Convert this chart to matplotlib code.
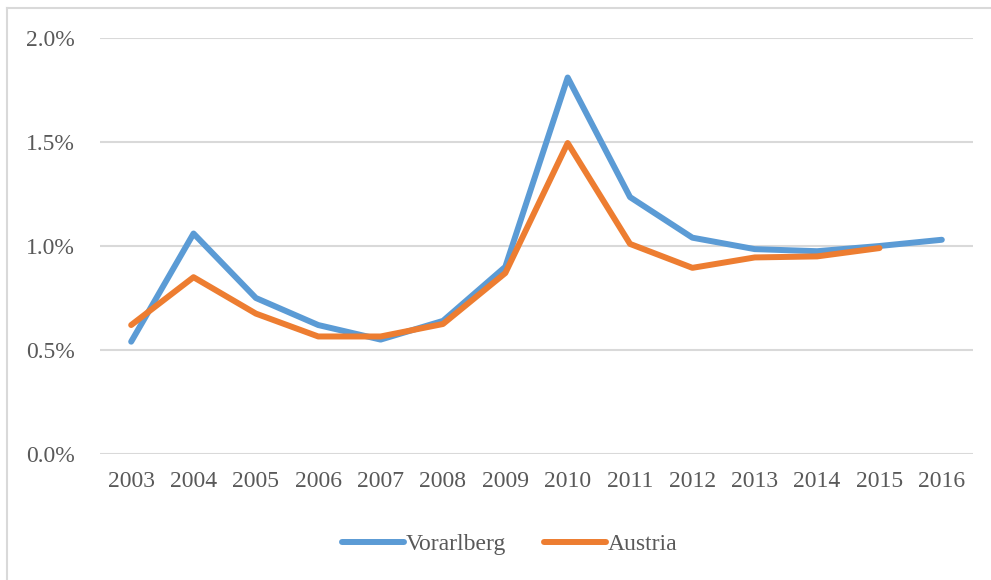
import matplotlib
matplotlib.use("Agg")
import matplotlib.pyplot as plt
from matplotlib.lines import Line2D
from matplotlib.ticker import FuncFormatter

years = ["2003", "2004", "2005", "2006", "2007", "2008", "2009",
         "2010", "2011", "2012", "2013", "2014", "2015", "2016"]
vorarlberg = [0.54, 1.06, 0.75, 0.62, 0.55, 0.64, 0.90,
              1.81, 1.235, 1.04, 0.985, 0.975, 1.0, 1.03]
austria = [0.62, 0.85, 0.675, 0.565, 0.565, 0.625, 0.87,
           1.495, 1.01, 0.895, 0.945, 0.95, 0.99, None]

plt.rcParams['font.family'] = ['Liberation Serif', 'DejaVu Serif']
txt = '#595959'

fig = plt.figure(figsize=(9.91, 5.8), dpi=100)
W, H = 991, 580
ax = fig.add_axes([100 / W, 1 - 454 / H, (973 - 100) / W, (454 - 38) / H])

x = list(range(len(years)))
ax.plot(x, vorarlberg, color='#5B9BD5', lw=4.3, solid_capstyle='round',
        solid_joinstyle='round', label='Vorarlberg', zorder=3)
ax_x = [i for i, v in zip(x, austria) if v is not None]
ax_y = [v for v in austria if v is not None]
ax.plot(ax_x, ax_y, color='#ED7D31', lw=4.3, solid_capstyle='round',
        solid_joinstyle='round', label='Austria', zorder=4)

ax.set_xlim(-0.5, len(years) - 0.5)
ax.set_ylim(0, 2.0)
ax.set_yticks([0, 0.5, 1.0, 1.5, 2.0])
ax.yaxis.set_major_formatter(FuncFormatter(lambda v, p: f"{v:.1f}%"))
ax.set_xticks(x)
ax.set_xticklabels(years)
ax.grid(axis='y', color='#D9D9D9', lw=1.5)
ax.set_axisbelow(True)
for s in ax.spines.values():
    s.set_visible(False)
ax.tick_params(axis='both', length=0, labelsize=17, colors=txt)
ax.tick_params(axis='y', pad=18)
ax.tick_params(axis='x', pad=12)

leg = fig.legend(handles=[
    Line2D([0], [0], color='#5B9BD5', lw=4.3, solid_capstyle='round'),
    Line2D([0], [0], color='#ED7D31', lw=4.3, solid_capstyle='round')],
    labels=['Vorarlberg', 'Austria'], loc='center',
    bbox_to_anchor=(510 / W, 1 - 544 / H), ncol=2, frameon=False,
    fontsize=17, handlelength=2.6, handletextpad=0.1, columnspacing=1.6)
for t in leg.get_texts():
    t.set_color(txt)

# light outer border (top and left)
fig.add_artist(Line2D([7 / W, 7 / W], [0, 1 - 8 / H], transform=fig.transFigure,
                      color='#D9D9D9', lw=1.5))
fig.add_artist(Line2D([7 / W, 1], [1 - 8 / H, 1 - 8 / H], transform=fig.transFigure,
                      color='#D9D9D9', lw=1.5))

fig.savefig('out.png', dpi=100)
